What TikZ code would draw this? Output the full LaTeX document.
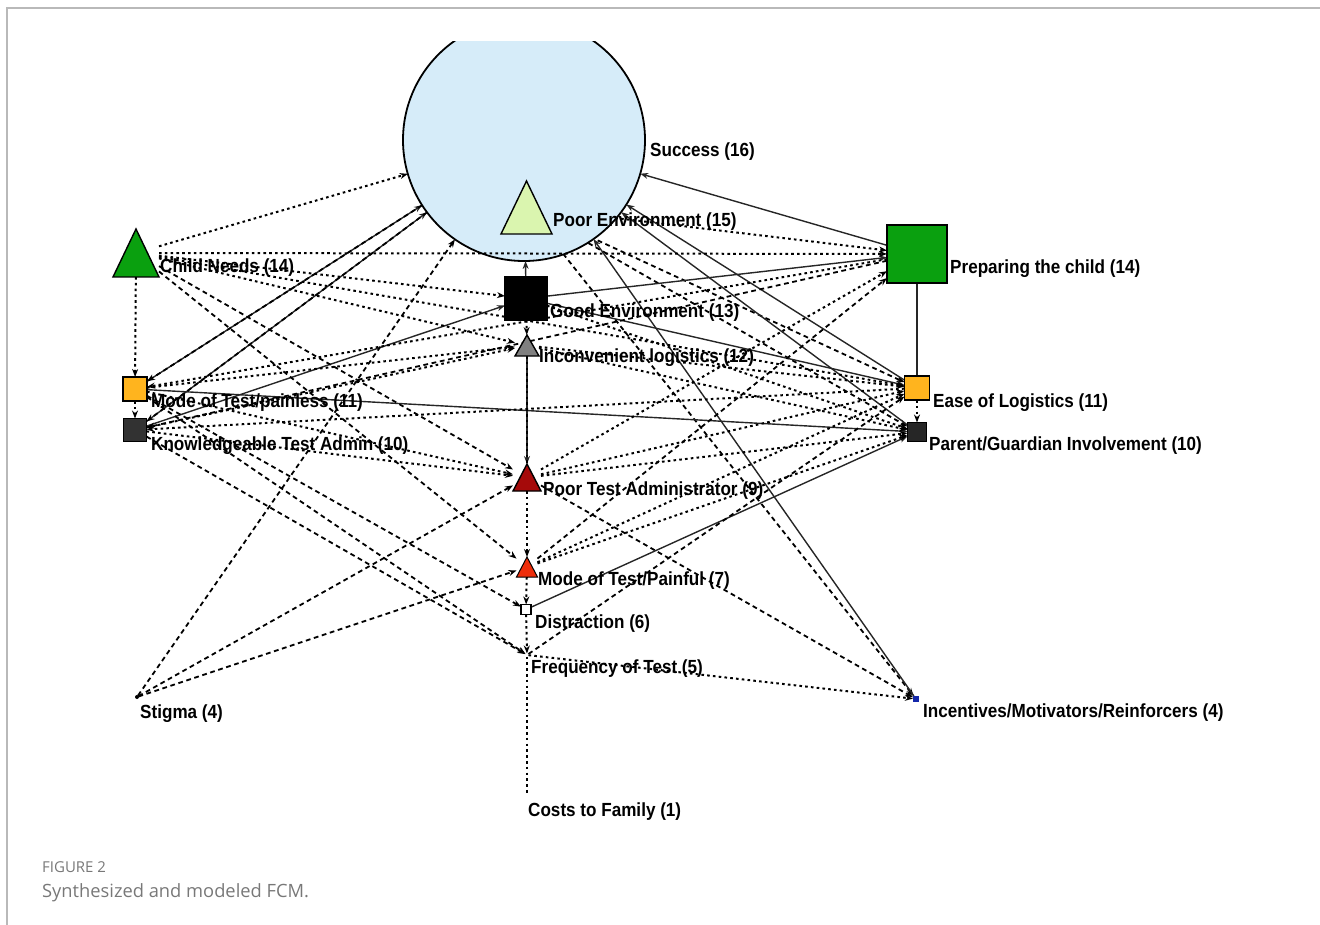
\documentclass[tikz,border=0pt]{standalone}
\usepackage{fontspec}
\newfontfamily\labfont{Liberation Sans Bold}[FakeStretch=0.9]
\newfontfamily\capfont{Open Sans}
\usetikzlibrary{arrows.meta}
\definecolor{sfill}{RGB}{214,236,249}
\definecolor{pefill}{RGB}{218,245,175}
\definecolor{gfill}{RGB}{10,160,15}
\definecolor{ofill}{RGB}{255,180,30}
\definecolor{kfill}{RGB}{50,50,50}
\definecolor{ptfill}{RGB}{165,10,10}
\definecolor{mffill}{RGB}{238,45,10}
\definecolor{infill}{RGB}{20,40,170}
\definecolor{capgray}{RGB}{120,120,120}
\begin{document}
\begin{tikzpicture}[x=1pt,y=-1pt,
  sl/.style={draw=black!85, line width=1.4pt},
  dt/.style={draw=black, line width=2pt, dash pattern=on 2.6pt off 3.2pt},
  ds/.style={draw=black, line width=1.8pt, dash pattern=on 4.8pt off 3.6pt},
  ar/.style={-{Stealth[length=8pt,width=6pt]}},
  nbox/.style={inner sep=0pt, outer sep=0pt, draw=none},
  lab/.style={anchor=base west, inner sep=0pt, font=\labfont\fontsize{19}{22}\selectfont},
  shp/.style={line width=1.4pt, draw=black}]
\useasboundingbox (0,0) rectangle (1320,925);
\draw[gray!55, line width=1.3pt] (1320,8) -- (7,8) -- (7,925);
% geometry nodes
\node[nbox, circle, minimum size=242pt] (S) at (524,140) {};
\node[nbox, minimum width=51pt, minimum height=53pt] (PE) at (526.5,207.5) {};
\node[nbox, minimum width=46pt, minimum height=48pt] (CN) at (136,253) {};
\node[nbox, minimum width=42pt, minimum height=43pt] (GE) at (526,298.5) {};
\node[nbox, minimum width=60pt, minimum height=58pt] (PC) at (917,254) {};
\node[nbox, minimum width=24pt, minimum height=21pt] (IL) at (527,345.5) {};
\node[nbox, minimum size=24pt] (MP) at (135,389) {};
\node[nbox, minimum size=23pt] (KA) at (135,430) {};
\node[nbox, minimum width=25pt, minimum height=24pt] (EL) at (917,388) {};
\node[nbox, minimum size=19pt] (PG) at (917,432) {};
\node[nbox, minimum width=28pt, minimum height=27pt] (PT) at (527,477.5) {};
\node[nbox, minimum width=21pt, minimum height=20pt] (MF) at (527,567) {};
\node[nbox, minimum size=10pt] (DI) at (526,609.5) {};
\node[nbox, minimum size=3pt] (FT) at (527,655) {};
\node[nbox, minimum size=3pt] (ST) at (137,697) {};
\node[nbox, minimum size=6pt] (IN) at (916,699) {};
\node[nbox, minimum size=3pt] (CF) at (527,795) {};
% edges leaving Poor Environment (hidden inside the circle)
\draw[ds,ar] (PE) -- (EL);
\draw[ds,ar] (PE) -- (PG);
\draw[ds,ar] (PE) -- (IN);
\draw[dt,ar] (PE) -- (PC);
% the Success circle
\begin{scope}
\clip (0,42) rectangle (1320,925);
\filldraw[fill=sfill, draw=black, line width=1.8pt] (S.center) circle[radius=121];
\end{scope}
% solid edges
\draw[sl,ar] (MP) -- (S);
\draw[sl,ar] (KA) -- (S);
\draw[sl,ar] (PC) -- (S);
\draw[sl,ar] (GE) -- (S);
\draw[sl,ar] (IN) -- (S);
\draw[sl,ar] (EL) -- (S);
\draw[sl,ar] (PG) -- (S);
\draw[sl,ar] (KA) -- (GE);
\draw[sl,ar] (GE) -- (PC);
\draw[sl,ar] (GE) -- (EL);
\draw[sl,ar] (MP) -- (PG);
\draw[sl,ar] (DI) -- (PG);
\draw[sl] (PC) -- (EL);
\draw[sl,ar] (IL) -- (PT);
\draw[dt] (IL) -- (PT);
% dotted and dashed edges
\draw[dt,ar] (CN) -- (S);
\draw[dt,ar] (CN) -- (PC);
\draw[dt,ar] (CN) -- (GE);
\draw[dt,ar] (CN) -- (MP);
\draw[dt,ar] (CN) -- (IL);
\draw[ds,ar] (CN) -- (PT);
\draw[ds,ar] (CN) -- (MF);
\draw[dt,ar] (CN) -- (EL);
\draw[ds,ar] (S) -- (MP);
\draw[ds,ar] (S) -- (KA);
\draw[ds,ar] (ST) -- (S);
\draw[dt,ar] (MP) -- (IL);
\draw[dt,ar] (MP) -- (PT);
\draw[ds,ar] (MP) -- (DI);
\draw[ds,ar] (MP) -- (FT);
\draw[dt,ar] (MP) -- (KA);
\draw[dt,ar] (KA) -- (IL);
\draw[dt,ar] (KA) -- (PT);
\draw[ds,ar] (KA) -- (FT);
\draw[ds,ar] (ST) -- (PT);
\draw[ds,ar] (ST) -- (MF);
\draw[dt,ar] (PT) -- (MF);
\draw[dt,ar] (MF) -- (DI);
\draw[dt,ar] (DI) -- (FT);
\draw[dt] (FT) -- (CF);
\draw[ds,ar] (PT) -- (IN);
\draw[dt,ar] (FT) -- (IN);
\draw[ds,ar] (FT) -- (EL);
\draw[dt,ar] (PT) -- (PC);
\draw[ds,ar] (MF) -- (PC);
\draw[dt,ar] (PT) -- (EL);
\draw[dt,ar] (PT) -- (PG);
\draw[dt,ar] (MF) -- (EL);
\draw[dt,ar] (MF) -- (PG);
\draw[dt,ar] (IL) -- (EL);
\draw[dt,ar] (IL) -- (PG);
\draw[dt,ar] (GE) -- (PG);
\draw[dt,ar] (GE) -- (IL);
\draw[dt,ar] (PC) -- (MP);
\draw[ds,ar] (PC) -- (KA);
\draw[dt,ar] (EL) -- (KA);
\draw[dt,ar] (EL) -- (PG);
% node shapes
\filldraw[shp, fill=pefill] (PE.north) -- (PE.south east) -- (PE.south west) -- cycle;
\filldraw[shp, fill=gfill] (CN.north) -- (CN.south east) -- (CN.south west) -- cycle;
\filldraw[shp, fill=black] (GE.north west) rectangle (GE.south east);
\filldraw[shp, fill=gfill, line width=2.2pt] (PC.north west) rectangle (PC.south east);
\filldraw[shp, fill=gray] (IL.north) -- (IL.south east) -- (IL.south west) -- cycle;
\filldraw[shp, fill=ofill] (MP.north west) rectangle (MP.south east);
\filldraw[shp, fill=kfill] (KA.north west) rectangle (KA.south east);
\filldraw[shp, fill=ofill] (EL.north west) rectangle (EL.south east);
\filldraw[shp, fill=black!85] (PG.north west) rectangle (PG.south east);
\filldraw[shp, fill=ptfill] (PT.north) -- (PT.south east) -- (PT.south west) -- cycle;
\filldraw[shp, fill=mffill, line width=1pt] (MF.north) -- (MF.south east) -- (MF.south west) -- cycle;
\filldraw[shp, fill=white, line width=1.2pt] (DI.north west) rectangle (DI.south east);
\filldraw[fill=infill, draw=none] (IN.north west) rectangle (IN.south east);
\fill (ST.center) circle[radius=2];
% labels
\node[lab] (Sl) at (650,157) {Success (16)};
\node[lab] (PEl) at (553,227) {Poor Environment (15)};
\node[lab] (CNl) at (160,273) {Child Needs (14)};
\node[lab] (GEl) at (550,318) {Good Environment (13)};
\node[lab] (PCl) at (950,274) {Preparing the child (14)};
\node[lab] (ILl) at (539,362) {Inconvenient logistics (12)};
\node[lab] (MPl) at (151,407) {Mode of Test/painless (11)};
\node[lab] (KAl) at (151,450) {Knowledgeable Test Admin (10)};
\node[lab] (ELl) at (933,407) {Ease of Logistics (11)};
\node[lab] (PGl) at (929,450) {Parent/Guardian Involvement (10)};
\node[lab] (PTl) at (543,495) {Poor Test Administrator (9)};
\node[lab] (MFl) at (538,585) {Mode of Test/Painful (7)};
\node[lab] (DIl) at (535,628) {Distraction (6)};
\node[lab] (FTl) at (531,673) {Frequency of Test (5)};
\node[lab] (STl) at (140,718) {Stigma (4)};
\node[lab] (INl) at (923,717) {Incentives/Motivators/Reinforcers (4)};
\node[lab] (CFl) at (528,816) {Costs to Family (1)};
% caption
\node[anchor=base west, inner sep=0pt, text=capgray, font=\capfont\fontsize{15}{18}\selectfont] (fig) at (42,872) {FIGURE 2};
\node[anchor=base west, inner sep=0pt, text=capgray, font=\capfont\fontsize{18.3}{22}\selectfont] (cap) at (42,897) {Synthesized and modeled FCM.};
\end{tikzpicture}
\end{document}
